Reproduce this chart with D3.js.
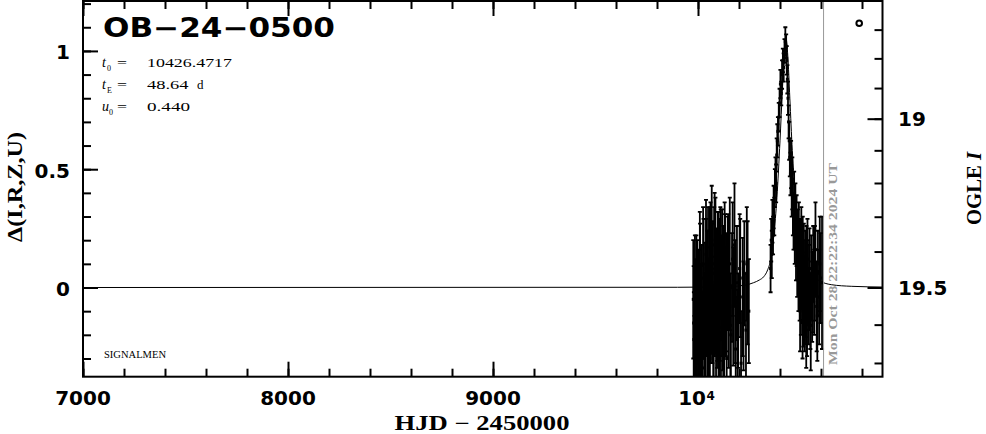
<!DOCTYPE html>
<html><head><meta charset="utf-8">
<script src="https://cdn.jsdelivr.net/npm/d3@7"></script>
<style>body{margin:0;background:#fff}</style>
</head><body><svg id="c" width="986" height="434"></svg>
<script>
// ---------- data ----------
const eventName = "OB\u221224\u22120500";
const paramT0 = "10426.4717";
const paramTE = "48.64";
const paramU0 = "0.440";
const xMajorTicks = [7000, 8000, 9000, 10000];
const xMajorLabels = ["7000", "8000", "9000", "10"];
const yMajorTicks = [0, 0.5, 1];
const yMajorLabels = ["0", "0.5", "1"];
const magMajorTicks = [19, 19.5];
const magMajorLabels = ["19", "19.5"];
const magMinorTicks = [18.7, 18.8, 18.9, 19.0, 19.1, 19.2, 19.3, 19.4, 19.5, 19.6, 19.7];
const todayHJD = 10612.43;
const todayLabel = "Mon Oct 28 22:22:34 2024 UT";

const modelT = [7000, 9900, 10150, 10230, 10270, 10300, 10320, 10340, 10355, 10370, 10385, 10400, 10412, 10422, 10430, 10438, 10448, 10460, 10475, 10495, 10520, 10550, 10590, 10650, 10750, 10900];
const modelD = [0, 0.001, 0.004, 0.010, 0.020, 0.032, 0.045, 0.075, 0.12, 0.22, 0.38, 0.62, 0.84, 1.00, 1.05, 0.98, 0.80, 0.58, 0.38, 0.22, 0.12, 0.06, 0.03, 0.012, 0.005, 0.002];

const obsT = [9977,9980,9983,9986,9989,9992,9995,9998,10001,10004,10007,10010,10013,10016,10019,10022,10025,10028,10031,10034,10037,10040,10043,10046,10049,10052,10055,10058,10061,10064,10067,10070,10073,10076,10079,10082,10085,10088,10091,10094,10097,10100,10103,10106,10109,10112,10115,10118,10121,10124,10128,10132,10136,10140,10145,10150,10155,10160,10166,10172,10178,10184,10190,10196,10203,10210,10218,10226,10234,10242,10248,
9979,9985,9991,9997,10003,10009,10015,10021,10027,10033,10039,10045,10051,10057,10063,10069,10075,10081,10087,10093,10099,10105,10111,10117,10123,10130,10138,10147,10158,10169,10181,10193,10206,10222,10238,
10354,10357,10360,10363,10366,10369,10372,10375,10378,10381,10384,10387,10390,10394,10398,10402,10406,10410,10414,10418,10422,10426,10430,10433,10436,10439,10442,10445,10448,10451,10454,10457,10460,10463,10466,10469,10472,10475,10478,10481,10484,10487,10490,10493,10496,10499,10502,10505,10508,10511,10514,10517,10520,10523,10526,10529,10532,10536,10540,10544,10548,10552,10557,10562,10567,10573,10579,10585,10591,10598,10605,
10492,10498,10504,10510,10516,10522,10528,10534,10542,10550,10560,10570,10582,10594];
const obsD = [-0.05,-0.22,-0.30,-0.10,-0.18,0.02,-0.26,-0.12,-0.32,-0.08,-0.20,0.05,-0.28,-0.15,-0.02,-0.24,0.10,-0.10,-0.34,0.00,-0.18,0.08,-0.06,-0.22,0.12,-0.14,0.04,-0.30,0.15,-0.04,0.20,-0.12,0.06,-0.25,0.10,-0.08,0.16,-0.18,0.02,-0.06,0.12,-0.28,0.05,-0.10,0.14,-0.20,0.00,0.08,-0.15,0.04,-0.24,0.10,-0.06,-0.30,0.06,-0.12,0.10,-0.20,0.00,-0.08,0.18,-0.26,0.02,-0.14,0.08,-0.32,-0.04,0.06,-0.18,0.02,-0.10,
-0.15,0.00,-0.28,-0.06,-0.20,0.08,-0.12,-0.30,0.04,-0.16,0.14,-0.02,-0.26,0.10,-0.10,0.02,-0.20,0.18,-0.04,-0.14,0.06,-0.22,0.10,-0.08,-0.18,0.14,-0.02,0.08,-0.16,0.12,-0.06,-0.22,0.04,-0.12,0.10,
0.08,0.20,0.14,0.28,0.22,0.34,0.30,0.42,0.48,0.44,0.56,0.62,0.66,0.72,0.78,0.86,0.82,0.90,0.96,0.93,1.00,1.04,1.02,0.96,0.88,0.80,0.70,0.62,0.55,0.48,0.52,0.40,0.44,0.34,0.28,0.36,0.22,0.30,0.16,0.24,0.10,0.18,0.06,0.14,0.02,0.12,-0.04,0.08,0.00,0.14,-0.08,0.04,-0.12,0.06,-0.04,0.10,-0.14,0.02,-0.08,0.08,-0.10,0.04,-0.06,0.10,-0.02,0.16,-0.08,0.06,-0.04,0.04,0.02,
0.20,-0.10,0.16,-0.14,0.10,-0.06,-0.18,0.12,0.00,-0.16,-0.02,0.06,-0.12,0.10];
const obsE = [0.25,0.20,0.18,0.22,0.24,0.20,0.22,0.18,0.20,0.24,0.21,0.22,0.19,0.25,0.20,0.22,0.24,0.20,0.22,0.19,0.24,0.21,0.23,0.20,0.22,0.25,0.20,0.22,0.21,0.24,0.23,0.20,0.22,0.19,0.24,0.21,0.22,0.20,0.23,0.25,0.20,0.22,0.24,0.21,0.20,0.23,0.22,0.25,0.20,0.22,0.24,0.21,0.23,0.20,0.24,0.22,0.28,0.21,0.23,0.25,0.26,0.22,0.24,0.20,0.23,0.22,0.25,0.22,0.24,0.26,0.22,
0.24,0.22,0.20,0.26,0.22,0.24,0.21,0.20,0.25,0.22,0.23,0.26,0.20,0.24,0.22,0.25,0.21,0.22,0.24,0.20,0.26,0.22,0.23,0.21,0.24,0.22,0.25,0.23,0.22,0.24,0.26,0.21,0.25,0.23,0.24,
0.10,0.09,0.10,0.09,0.08,0.09,0.08,0.08,0.07,0.08,0.07,0.07,0.06,0.06,0.06,0.06,0.05,0.06,0.05,0.06,0.05,0.06,0.05,0.06,0.06,0.07,0.07,0.08,0.08,0.09,0.10,0.10,0.11,0.12,0.12,0.13,0.12,0.14,0.13,0.15,0.14,0.15,0.16,0.15,0.16,0.17,0.16,0.17,0.15,0.16,0.17,0.16,0.15,0.18,0.17,0.16,0.15,0.18,0.16,0.17,0.16,0.18,0.17,0.16,0.18,0.20,0.19,0.18,0.20,0.19,0.28,
0.16,0.17,0.18,0.16,0.17,0.18,0.16,0.17,0.18,0.19,0.17,0.20,0.19,0.20];

// ---------- layout ----------
const W = 986, H = 434;
const L = 83, R = 882.5, T = 1, B = 376.7;
const x = d3.scaleLinear().domain([7000, 10900]).range([L, R]);
const y = d3.scaleLinear().domain([-0.377, 1.211]).range([B, T]);
// OGLE I magnitude -> delta mapping for the right axis
const magToDelta = m => 4.826 * (1 - Math.exp(0.32 * (m - 19.5)));

const svg = d3.select("#c");
svg.append("rect").attr("width", W).attr("height", H).attr("fill", "#fff");

svg.append("defs").append("clipPath").attr("id", "clip")
  .append("rect").attr("x", L).attr("y", T).attr("width", R - L).attr("height", B - T);

const plot = svg.append("g").attr("clip-path", "url(#clip)");

// model
const line = d3.line().x((d, i) => x(modelT[i])).y(d => y(d)).curve(d3.curveMonotoneX);
plot.append("path").attr("d", line(modelD)).attr("fill", "none").attr("stroke", "#000").attr("stroke-width", 1);

// observations
const idx = d3.range(obsT.length);
const g = plot.append("g").attr("stroke", "#000").attr("stroke-width", 1.8);
g.selectAll("line.bar").data(idx).join("line").attr("class", "bar")
  .attr("x1", i => x(obsT[i])).attr("x2", i => x(obsT[i]))
  .attr("y1", i => y(obsD[i] - obsE[i])).attr("y2", i => y(obsD[i] + obsE[i]));
g.selectAll("line.capt").data(idx).join("line").attr("class", "capt")
  .attr("x1", i => x(obsT[i]) - 2).attr("x2", i => x(obsT[i]) + 2)
  .attr("y1", i => y(obsD[i] + obsE[i])).attr("y2", i => y(obsD[i] + obsE[i]));
g.selectAll("line.capb").data(idx).join("line").attr("class", "capb")
  .attr("x1", i => x(obsT[i]) - 2).attr("x2", i => x(obsT[i]) + 2)
  .attr("y1", i => y(obsD[i] - obsE[i])).attr("y2", i => y(obsD[i] - obsE[i]));
plot.append("g").selectAll("rect").data(idx).join("rect")
  .attr("x", i => x(obsT[i]) - 1.5).attr("y", i => y(obsD[i]) - 1.5)
  .attr("width", 3).attr("height", 3).attr("fill", "#000");

// today line
svg.append("line").attr("x1", x(todayHJD)).attr("x2", x(todayHJD)).attr("y1", T).attr("y2", B)
  .attr("stroke", "#999").attr("stroke-width", 1);
svg.append("text").attr("transform", `translate(${x(todayHJD) + 13},365) rotate(-90)`)
  .attr("font-family", "Liberation Serif").attr("font-weight", "bold").attr("font-size", 13)
  .attr("fill", "#999").attr("textLength", 202).attr("lengthAdjust", "spacingAndGlyphs").text(todayLabel);

// axes
function styleAxis(sel) {
  sel.select(".domain").remove();
  sel.selectAll(".tick line").attr("stroke", "#000").attr("stroke-width", 2);
  sel.selectAll(".tick text").remove();
}
const xMinor = d3.range(7000, 10900, 200);
const yMinor = d3.range(-3, 13).map(v => v / 10);
const axes = [
  [d3.axisBottom(x).tickValues(xMinor).tickSize(-8), `translate(0,${B})`],
  [d3.axisBottom(x).tickValues(xMajorTicks).tickSize(-15), `translate(0,${B})`],
  [d3.axisTop(x).tickValues(xMinor).tickSize(-8), `translate(0,${T})`],
  [d3.axisTop(x).tickValues(xMajorTicks).tickSize(-15), `translate(0,${T})`],
  [d3.axisLeft(y).tickValues(yMinor).tickSize(-8), `translate(${L},0)`],
  [d3.axisLeft(y).tickValues(yMajorTicks).tickSize(-15), `translate(${L},0)`],
  [d3.axisRight(y).tickValues(magMinorTicks.map(magToDelta)).tickSize(-8), `translate(${R},0)`],
  [d3.axisRight(y).tickValues(magMajorTicks.map(magToDelta)).tickSize(-15), `translate(${R},0)`]
];
axes.forEach(([ax, tr]) => svg.append("g").attr("transform", tr).call(ax).call(styleAxis));

svg.append("rect").attr("x", L).attr("y", T).attr("width", R - L).attr("height", B - T)
  .attr("fill", "none").attr("stroke", "#000").attr("stroke-width", 2);

// tick labels
const numFont = "DejaVu Sans";
xMajorTicks.forEach((v, i) => {
  const t = svg.append("text").attr("font-family", numFont).attr("font-weight", "bold").attr("font-size", 20)
    .attr("y", 405).text(xMajorLabels[i]);
  if (v === 10000) {
    t.attr("x", x(v) + 8).attr("text-anchor", "end");
    svg.append("text").attr("font-family", numFont).attr("font-weight", "bold").attr("font-size", 12)
      .attr("x", x(v) + 8.5).attr("y", 400).text("4");
  } else {
    t.attr("x", x(v)).attr("text-anchor", "middle");
  }
});
yMajorTicks.forEach((v, i) => {
  svg.append("text").attr("font-family", numFont).attr("font-weight", "bold").attr("font-size", 20)
    .attr("x", 70).attr("y", y(v) + 8.5).attr("text-anchor", "end").text(yMajorLabels[i]);
});
magMajorTicks.forEach((m, i) => {
  svg.append("text").attr("font-family", numFont).attr("font-weight", "bold").attr("font-size", 20)
    .attr("x", 898).attr("y", y(magToDelta(m)) + 7).attr("text-anchor", "start").text(magMajorLabels[i]);
});

// axis titles
svg.append("text").attr("x", 482).attr("y", 430).attr("text-anchor", "middle")
  .attr("font-family", "Liberation Serif").attr("font-weight", "bold").attr("font-size", 20)
  .attr("textLength", 175).attr("lengthAdjust", "spacingAndGlyphs").text("HJD \u2212 2450000");
svg.append("text").attr("transform", "translate(22,187) rotate(-90)").attr("text-anchor", "middle")
  .attr("font-family", "Liberation Serif").attr("font-weight", "bold").attr("font-size", 21)
  .attr("textLength", 110).attr("lengthAdjust", "spacingAndGlyphs").text("\u0394(I,R,Z,U)");
const ogle = svg.append("text").attr("transform", "translate(981,188.5) rotate(-90)").attr("text-anchor", "middle")
  .attr("font-family", "Liberation Serif").attr("font-weight", "bold").attr("font-size", 20)
  .attr("textLength", 73).attr("lengthAdjust", "spacingAndGlyphs");
ogle.append("tspan").text("OGLE ");
ogle.append("tspan").attr("font-style", "italic").text("I");

// title and params
svg.append("text").attr("x", 103).attr("y", 37).attr("font-family", "DejaVu Sans").attr("font-weight", "bold")
  .attr("font-size", 26).attr("textLength", 232).attr("lengthAdjust", "spacingAndGlyphs").text(eventName);

const pf = "Liberation Serif";
function param(yb, sym, sub, val, valLen, unit) {
  svg.append("text").attr("x", 102).attr("y", yb).attr("font-family", pf).attr("font-style", "italic")
    .attr("font-size", 14).text(sym);
  svg.append("text").attr("x", sym === "u" ? 109 : 107).attr("y", yb + 4).attr("font-family", pf)
    .attr("font-size", 8).text(sub);
  svg.append("text").attr("x", 117).attr("y", yb).attr("font-family", pf).attr("font-size", 13)
    .attr("textLength", 10).attr("lengthAdjust", "spacingAndGlyphs").text("=");
  svg.append("text").attr("x", 147).attr("y", yb).attr("font-family", pf).attr("font-size", 12)
    .attr("textLength", valLen).attr("lengthAdjust", "spacingAndGlyphs").text(val);
  if (unit) svg.append("text").attr("x", 197).attr("y", yb).attr("font-family", pf).attr("font-size", 13)
    .text(unit);
}
param(67, "t", "0", paramT0, 85, null);
param(89, "t", "E", paramTE, 41.5, "d");
param(111, "u", "0", paramU0, 43, null);

svg.append("text").attr("x", 104).attr("y", 358).attr("font-family", pf).attr("font-size", 9.5)
  .attr("textLength", 62).attr("lengthAdjust", "spacingAndGlyphs").text("SIGNALMEN");

svg.append("circle").attr("cx", 859.2).attr("cy", 23.3).attr("r", 2.8)
  .attr("fill", "none").attr("stroke", "#000").attr("stroke-width", 2);
</script>
</body></html>
